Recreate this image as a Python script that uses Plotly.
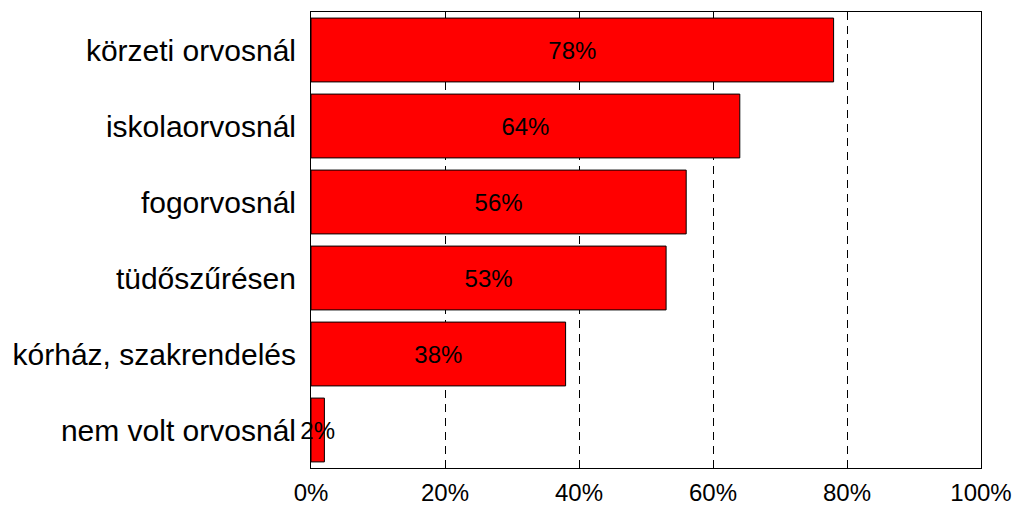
import plotly.graph_objects as go

categories = ["körzeti orvosnál", "iskolaorvosnál", "fogorvosnál",
              "tüdőszűrésen", "kórház, szakrendelés", "nem volt orvosnál"]
values = [78, 64, 56, 53, 38, 2]
tick_vals = [0, 20, 40, 60, 80, 100]
tick_text = ["0%", "20%", "40%", "60%", "80%", "100%"]

fig = go.Figure(go.Bar(
    x=values, y=categories, orientation="h",
    marker=dict(color="#FF0000", line=dict(color="black", width=1)),
    text=[f"{v}%" for v in values],
    textposition="inside", insidetextanchor="middle",
    textangle=0, constraintext="none",
    textfont=dict(family="Liberation Sans, Arial", size=24, color="black"),
    cliponaxis=False,
))

fig.update_layout(
    width=1014, height=505,
    margin=dict(l=311, r=33, t=12, b=37),
    paper_bgcolor="white", plot_bgcolor="white",
    bargap=0.16, showlegend=False,
    font=dict(family="Liberation Sans, Arial", color="black"),
)
fig.update_xaxes(
    range=[0, 100], tickvals=tick_vals, ticktext=tick_text,
    tickfont=dict(size=24, color="black"),
    showgrid=True, gridcolor="black", gridwidth=1, griddash="8px,6px",
    showline=True, linecolor="black", linewidth=1, mirror=True,
    zeroline=False, ticks="", ticklabelstandoff=3, automargin=False,
)
fig.update_yaxes(
    autorange="reversed",
    tickfont=dict(size=30, color="black"),
    showline=True, linecolor="black", linewidth=1, mirror=True,
    ticks="", ticklabelstandoff=8, showgrid=False, automargin=False,
)

fig.write_html("out.html",
               config={"displayModeBar": False},
               post_script="document.body.style.margin='0';document.body.style.overflow='hidden';")
